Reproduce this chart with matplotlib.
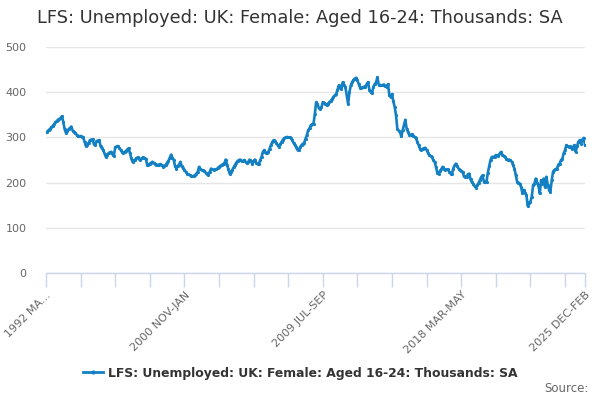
import matplotlib
matplotlib.use("Agg")
import matplotlib.pyplot as plt
from matplotlib.lines import Line2D

title = "LFS: Unemployed: UK: Female: Aged 16-24: Thousands: SA"
series_name = "LFS: Unemployed: UK: Female: Aged 16-24: Thousands: SA"

# Rolling three-month periods, 1992 MAR-MAY ... 2025 DEC-FEB
start_year = 1992
start_month = 3  # first month of first period (MAR)
months = ["JAN", "FEB", "MAR", "APR", "MAY", "JUN", "JUL", "AUG", "SEP", "OCT", "NOV", "DEC"]

values = [
    311, 313, 316, 319, 322, 325, 329, 333, 336, 339,
    341, 342, 347, 334, 318, 310, 314, 318, 321, 324,
    315, 313, 310, 306, 302, 302, 303, 301, 300, 290,
    281, 283, 288, 294, 295, 296, 285, 284, 292, 293,
    294, 280, 276, 272, 264, 257, 262, 265, 267, 268,
    262, 259, 278, 280, 281, 277, 273, 268, 265, 267,
    270, 273, 276, 266, 255, 246, 249, 251, 254, 256,
    253, 251, 254, 256, 254, 253, 240, 240, 242, 244,
    246, 244, 242, 240, 239, 240, 241, 238, 235, 237,
    239, 244, 248, 255, 262, 255, 250, 236, 231, 237,
    240, 246, 236, 232, 228, 224, 220, 218, 217, 215,
    214, 215, 216, 220, 224, 235, 230, 228, 227, 226,
    222, 220, 217, 224, 231, 229, 228, 229, 229, 232,
    235, 237, 239, 241, 242, 251, 240, 230, 220, 224,
    228, 234, 239, 244, 248, 250, 251, 247, 248, 250,
    246, 243, 246, 251, 247, 242, 248, 251, 243, 241,
    242, 250, 257, 268, 272, 266, 265, 267, 275, 283,
    289, 294, 291, 288, 283, 279, 285, 290, 295, 298,
    300, 301, 300, 300, 298, 294, 288, 283, 279, 272,
    272, 279, 283, 286, 288, 297, 305, 316, 320, 327,
    329, 330, 352, 378, 374, 365, 363, 367, 378, 376,
    374, 371, 375, 378, 381, 385, 390, 393, 396, 405,
    415, 410, 407, 422, 415, 411, 393, 374, 400, 415,
    422, 427, 430, 432, 426, 418, 410, 410, 411, 412,
    412, 418, 422, 405, 400, 398, 412, 418, 422, 433,
    417, 416, 415, 416, 417, 413, 411, 418, 393, 389,
    396, 380, 367, 349, 319, 315, 312, 302, 316, 328,
    339, 319, 312, 305, 306, 307, 304, 301, 299, 290,
    283, 275, 272, 275, 276, 277, 272, 266, 261, 259,
    257, 250, 246, 235, 222, 220, 226, 229, 235, 230,
    228, 229, 229, 224, 220, 219, 231, 238, 242, 236,
    231, 228, 226, 224, 214, 213, 213, 218, 220, 207,
    201, 197, 192, 189, 194, 199, 205, 212, 216, 202,
    202, 202, 222, 236, 250, 257, 257, 257, 261, 260,
    259, 265, 268, 261, 259, 257, 252, 250, 251, 249,
    246, 238, 231, 216, 202, 200, 198, 190, 176, 184,
    178, 172, 148, 155, 158, 169, 194, 198, 209, 200,
    194, 176, 205, 198, 209, 190, 213, 195, 184, 180,
    205, 224, 228, 230, 231, 240, 242, 250, 253, 265,
    272, 283, 280, 279, 280, 275, 278, 283, 268, 280,
    290, 294, 286, 295, 299, 283,
]

def period_label(i):
    m0 = start_month - 1 + i
    y = start_year + m0 // 12
    a = months[m0 % 12]
    c = months[(m0 + 2) % 12]
    return f"{y} {a}-{c}"

categories = [period_label(i) for i in range(len(values))]

tick_labels = ["1992 MA...", "2000 NOV-JAN", "2009 JUL-SEP", "2018 MAR-MAY", "2025 DEC-FEB"]
tick_categories = ["1992 MAR-MAY", "2000 NOV-JAN", "2009 JUL-SEP", "2018 MAR-MAY", "2025 DEC-FEB"]
y_ticks = [0, 100, 200, 300, 400, 500]

line_color = "#1380c4"
text_color = "#666666"

fig = plt.figure(figsize=(6, 4), dpi=100)
ax = fig.add_axes([46 / 600, 1 - 273 / 400, (585 - 46) / 600, (273 - 47) / 400])

x = list(range(len(values)))
ax.plot(x, values, color=line_color, linewidth=1.9, marker="o", markersize=2.3,
        markeredgewidth=0, zorder=3)

ax.set_xlim(0, len(values) - 1)
ax.set_ylim(0, 500)
ax.set_yticks(y_ticks)
ax.set_yticklabels([str(v) for v in y_ticks])
ax.grid(axis="y", color="#e6e6e6", linewidth=1)
ax.set_axisbelow(True)

major_pos = [categories.index(c) for c in tick_categories]
ax.set_xticks(major_pos)
ax.set_xticklabels(tick_labels, rotation=45, ha="right", va="top",
                   rotation_mode="anchor", fontsize=8, color=text_color)
minor_pos = list(range(0, len(values), 26)) + [len(values) - 1]
ax.set_xticks(minor_pos, minor=True)
ax.tick_params(axis="x", which="both", length=10, width=1, color="#ccd6eb", pad=2)
ax.tick_params(axis="y", length=0, labelsize=8, labelcolor=text_color, pad=14)

for s in ["top", "right", "left"]:
    ax.spines[s].set_visible(False)
ax.spines["bottom"].set_color("#ccd6eb")
ax.spines["bottom"].set_linewidth(1)

fig.text(0.5, 1 - 18 / 400, title, ha="center", va="center", fontsize=12.75, color="#333333")

handle = Line2D([0], [0], color=line_color, linewidth=2, marker="o", markersize=3, markeredgewidth=0)
fig.legend([handle], [series_name], loc="center", bbox_to_anchor=(0.5, 1 - 373 / 400),
           frameon=False, prop={"weight": "bold", "size": 8.9}, labelcolor="#333333",
           handlelength=1.6, handletextpad=0.4)

fig.text(589 / 600, 1 - 389 / 400, "Source:", ha="right", va="center", fontsize=8.5, color=text_color)

fig.savefig("out.png", dpi=100)
